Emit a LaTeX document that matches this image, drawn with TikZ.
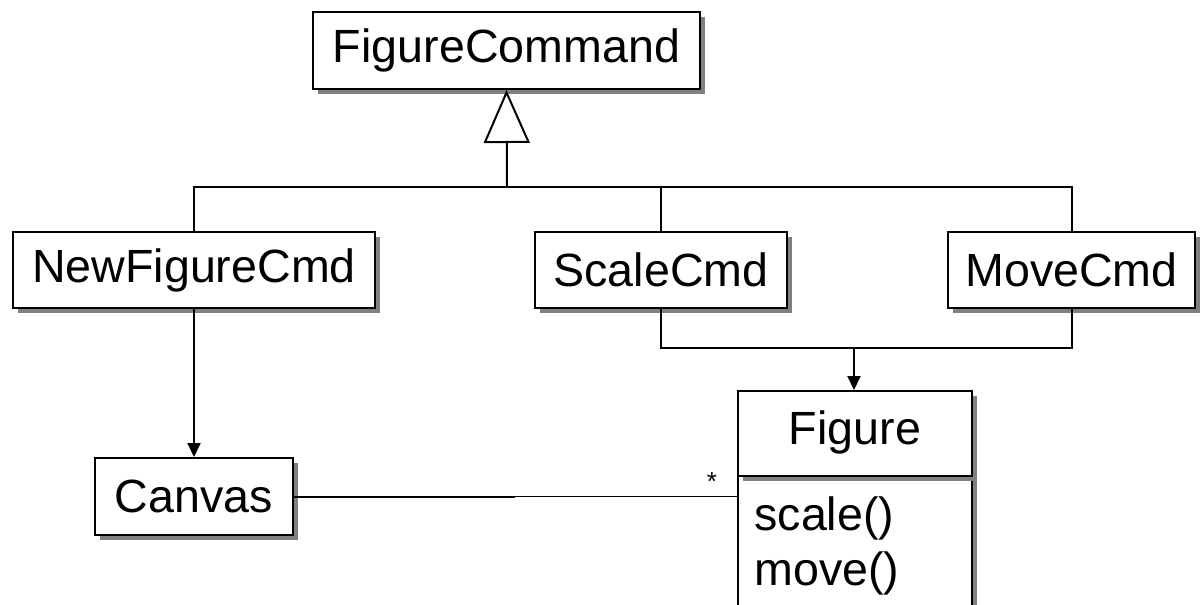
\documentclass[tikz,border=0pt]{standalone}
\usepackage{fontspec}
\setmainfont{Liberation Sans}
\usetikzlibrary{shadows,arrows.meta}
\begin{document}
\begin{tikzpicture}[x=0.5pt,y=-0.5pt,
  box/.style={draw,line width=1pt,fill=white,inner sep=0pt,
    drop shadow={shadow xshift=2.5pt,shadow yshift=-2.5pt,fill=black!50,opacity=1},
    font=\fontsize{23.3}{27.5}\selectfont},
  conn/.style={line width=1pt},
  arr/.style={conn,-{Triangle[width=6.5pt,length=7pt]}},
  txt/.style={inner sep=0pt,font=\fontsize{23.3}{27.5}\selectfont}]
\useasboundingbox (0,0) rectangle (1201,605);
\begin{scope}
\clip (0,0) rectangle (1201,605);
% Figure class (cut at bottom)
\node[box,minimum width=117pt,minimum height=115pt,anchor=north west] (figm) at (737,475) {};
\node[box,minimum width=117pt,minimum height=42.5pt,anchor=north west] (fig) at (737,390) {};
\end{scope}
\node[txt] (figt) at (855,432.5) {Figure};
\node[txt,anchor=west] (m1) at (754,518) {scale()};
\node[txt,anchor=west] (m2) at (754,573) {move()};

\node[box,minimum width=193.5pt,minimum height=38.5pt] (fc) at (506.5,50.5) {FigureCommand};
\node[box,minimum width=181pt,minimum height=38pt] (nf) at (194,270) {NewFigureCmd};
\node[box,minimum width=126pt,minimum height=38pt] (sc) at (661,270) {ScaleCmd};
\node[box,minimum width=123.5pt,minimum height=38pt] (mc) at (1071.5,270) {MoveCmd};
\node[box,minimum width=99pt,minimum height=38.5pt] (cv) at (194,496.5) {Canvas};

% inheritance
\coordinate (j) at (507,187);
\draw[conn] (nf.north) |- (j) -| (mc.north);
\draw[conn] (sc.north) -- (sc.north |- j);
\draw[conn,-{Triangle[open,width=23pt,length=26.5pt,fill=white]}] (j) -- (fc.south);

% associations
\coordinate (k) at (854,348);
\draw[conn] (sc.south) |- (k) -| (mc.south);
\draw[arr] (k) -- (k |- fig.north);
\draw[arr] (nf.south) -- (cv.north);
\coordinate (mid) at (515,496.5);
\draw[conn] (cv.east) -- (mid);
\draw[line width=0.6pt] (mid) -- (figm.west |- mid);
\node[inner sep=0pt,font=\fontsize{13}{13}\selectfont] (star) at (712,482) {*};
\end{tikzpicture}
\end{document}
